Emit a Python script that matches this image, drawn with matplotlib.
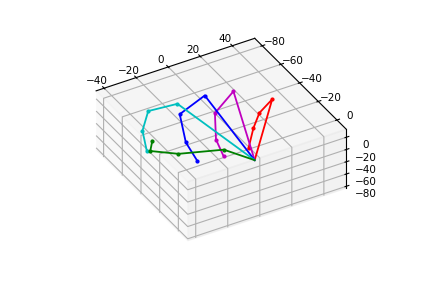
import numpy as np
import matplotlib
matplotlib.use("Agg")
import matplotlib.pyplot as plt

# hand keypoints, wrist first then one finger at a time
wrist = [0.3, 4.0, 0]
thumb_x = [37.2, 27.7, 19.1, 8.9]
thumb_y = [-40.5, -37.9, -29.6, -17.3]
thumb_z = [0, -10, -15, -20]
index_x = [22.8, 8.2, 0.6, -0.9]
index_y = [-57.3, -52.1, -37.9, -27.1]
index_z = [0, -15, -30, -40]
middle_x = [7.4, -8.8, -14.9, -15.3]
middle_y = [-61.6, -60.6, -43.6, -30.8]
middle_z = [0, -15, -30, -40]
ring_x = [-9.3, -23.5, -32.6, -38.7]
ring_y = [-62.2, -69.1, -59.7, -44.5]
ring_z = [0, -10, -20, -25]
pinky_x = [-6.3, -26.6, -35.6, -29.8]
pinky_y = [-17.7, -31.4, -46.2, -53.9]
pinky_z = [-10, -20, -30, -30]

x_ticks = [-40, -20, 0, 20, 40]
y_ticks = [-80, -60, -40, -20, 0]
z_ticks = [-80, -60, -40, -20, 0]

fig = plt.figure(figsize=(4.23, 2.82), dpi=100)
ax = fig.add_subplot(111, projection="3d")
# let the cube stretch with the axes box instead of staying square
ax.apply_aspect = lambda position=None: None
ax.set_box_aspect((1, 1, 0.97), zoom=0.93)
ax.set_proj_type("ortho")
ax.view_init(elev=-60, azim=-60)

fingers = [
    (thumb_x, thumb_y, thumb_z, "r"),
    (index_x, index_y, index_z, "m"),
    (middle_x, middle_y, middle_z, "b"),
    (ring_x, ring_y, ring_z, "c"),
    (pinky_x, pinky_y, pinky_z, "g"),
]
for fx, fy, fz, col in fingers:
    # no dot on the wrist itself
    ax.plot([wrist[0]] + fx, [wrist[1]] + fy, [wrist[2]] + fz, color=col,
            marker=".", markersize=4, linewidth=1.3, markevery=slice(1, None))

ax.set_xlim(-45, 54)
ax.set_ylim(-88, 10)
ax.set_zlim(-83, 13)
ax.set_xticks(x_ticks)
ax.set_yticks(y_ticks)
ax.set_zticks(z_ticks)
ax.tick_params(labelsize=7.5, pad=0)

fig.savefig("out.png", dpi=100)
